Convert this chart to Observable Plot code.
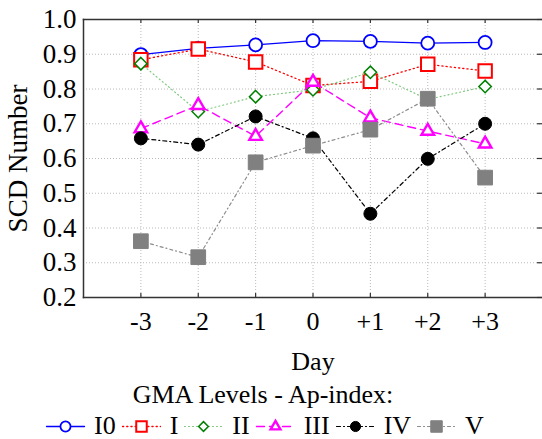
<!DOCTYPE html>
<html>
<head>
<meta charset="utf-8">
<script src="https://cdn.jsdelivr.net/npm/d3@7"></script>
<script src="https://cdn.jsdelivr.net/npm/@observablehq/plot@0.6"></script>
<style>
  body { margin: 0; background: white; font-family: "Liberation Serif"; }
  #wrap { width: 542px; height: 439px; position: relative; overflow: hidden; }
  #legend-title { position: absolute; left: 0; width: 526px; top: 380px; text-align: center; font-size: 26px; line-height: 30px; }
  #legend { position: absolute; left: 46px; top: 411px; display: flex; align-items: center; font-size: 26px; line-height: 30px; white-space: nowrap; }
  #legend .item { display: flex; align-items: center; margin-right: 6px; }
  #legend .item svg { margin-right: 10px; }
</style>
</head>
<body>
<div id="wrap">
  <div id="chart"></div>
  <div id="legend-title">GMA Levels - Ap-index:</div>
  <div id="legend"></div>
</div>
<script>
// ---- data ----
const days = [-3, -2, -1, 0, 1, 2, 3];
const dayLabels = ["-3", "-2", "-1", "0", "+1", "+2", "+3"];
const yTicks = [0.2, 0.3, 0.4, 0.5, 0.6, 0.7, 0.8, 0.9, 1.0];
const yTitle = "SCD Number";
const xTitle = "Day";
const seriesNames = ["I0", "I", "II", "III", "IV", "V"];
const valuesI0  = [0.899, 0.917, 0.927, 0.939, 0.937, 0.932, 0.934];
const valuesI   = [0.884, 0.915, 0.878, 0.810, 0.822, 0.871, 0.852];
const valuesII  = [0.873, 0.735, 0.778, 0.798, 0.848, 0.770, 0.807];
const valuesIII = [0.686, 0.753, 0.664, 0.820, 0.717, 0.679, 0.642];
const valuesIV  = [0.658, 0.640, 0.721, 0.658, 0.441, 0.599, 0.700];
const valuesV   = [0.362, 0.316, 0.589, 0.637, 0.683, 0.772, 0.545];

// ---- styles ----
const styles = {
  "I0":  {line: "#0000ff", dash: null,        lw: 1.3, symbol: "circle",   r: 6.5, fill: "white",  stroke: "#0000ff", sw: 1.8},
  "I":   {line: "#ff0000", dash: "1.2,3",     lw: 1.3, symbol: "square",   r: 7.6, fill: "white",  stroke: "#ff0000", sw: 2},
  "II":  {line: "#7fc87f", dash: "1,3",       lw: 1.2, symbol: "diamond2", r: 5.6, fill: "white",  stroke: "#008000", sw: 1.5},
  "III": {line: "#ff00ff", dash: "8,5",       lw: 1.4, symbol: "triangle2",r: 6.0, fill: "white",  stroke: "#ff00ff", sw: 2.4},
  "IV":  {line: "#000000", dash: "4,3,1,3",   lw: 1.2, symbol: "circle",   r: 6.5, fill: "#000000",stroke: "#000000", sw: 1},
  "V":   {line: "#8c8c8c", dash: "3,3,1,3",   lw: 1.2, symbol: "square",   r: 8.3, fill: "#808080",stroke: "#808080", sw: 1}
};
const allValues = {"I0": valuesI0, "I": valuesI, "II": valuesII, "III": valuesIII, "IV": valuesIV, "V": valuesV};

const marks = [
  Plot.gridY(yTicks, {stroke: "#bbbbbb", strokeOpacity: 1, strokeDasharray: "1,2"}),
  Plot.gridX(days, {stroke: "#bbbbbb", strokeOpacity: 1, strokeDasharray: "1,2"}),
  Plot.tickY(yTicks, {y: d => d, insetLeft: 454, stroke: "#333", strokeWidth: 1.2}),
  Plot.tickX(days, {x: d => d, insetTop: 274, stroke: "#333", strokeWidth: 1.2}),
  Plot.tickX(days, {x: d => d, insetBottom: 274, stroke: "#333", strokeWidth: 1.2}),
  Plot.text(yTicks, {y: d => d, text: d => d3.format(".1f")(d), frameAnchor: "left", textAnchor: "end",
    dx: -7, fontSize: 27, fill: "black"}),
  Plot.text([yTitle], {text: d => d, frameAnchor: "left", textAnchor: "middle", lineAnchor: "middle",
    rotate: -90, dx: -65, fontSize: 27, fill: "black"}),
  Plot.axisX(days, {tickSize: 0, tickPadding: 14, tickFormat: (d, i) => dayLabels[i], fontSize: 26,
    label: xTitle, labelAnchor: "center", labelArrow: "none", labelOffset: 72}),
];
for (const name of seriesNames) {
  const s = styles[name];
  const data = days.map((d, i) => ({day: d, v: allValues[name][i]}));
  marks.push(Plot.line(data, {x: "day", y: "v", stroke: s.line, strokeWidth: s.lw, strokeDasharray: s.dash}));
  marks.push(Plot.dot(data, {x: "day", y: "v", symbol: s.symbol, r: s.r, fill: s.fill, stroke: s.stroke, strokeWidth: s.sw}));
}
marks.push(Plot.frame({anchor: "left", stroke: "#333", strokeWidth: 1.5}));
marks.push(Plot.frame({anchor: "top", stroke: "#333", strokeWidth: 1.5}));
marks.push(Plot.frame({anchor: "bottom", stroke: "#333", strokeWidth: 1.5}));

const chart = Plot.plot({
  width: 542,
  height: 375,
  marginLeft: 83,
  marginRight: 0,
  marginTop: 19,
  marginBottom: 78,
  style: {fontFamily: "Liberation Serif", fontSize: "26px", color: "black", background: "white", overflow: "visible"},
  x: {domain: [-4, 4]},
  y: {domain: [0.2, 1.0], axis: null},
  marks
});
document.getElementById("chart").appendChild(chart);

// ---- legend ----
const legend = document.getElementById("legend");
for (const name of seriesNames) {
  const s = styles[name];
  const item = document.createElement("div");
  item.className = "item";
  const sw = Plot.plot({
    width: 38, height: 20, margin: 0,
    x: {domain: [0, 2], axis: null}, y: {domain: [0, 1], axis: null},
    style: {background: "transparent", overflow: "visible"},
    marks: [
      Plot.line([[0, 0.5], [2, 0.5]], {stroke: s.line, strokeWidth: s.lw, strokeDasharray: s.dash}),
      Plot.dot([[1, 0.5]], {symbol: s.symbol, r: s.r * 0.78, fill: s.fill, stroke: s.stroke, strokeWidth: s.sw})
    ]
  });
  item.appendChild(sw);
  const label = document.createElement("span");
  label.textContent = name;
  item.appendChild(label);
  legend.appendChild(item);
}
</script>
</body>
</html>
